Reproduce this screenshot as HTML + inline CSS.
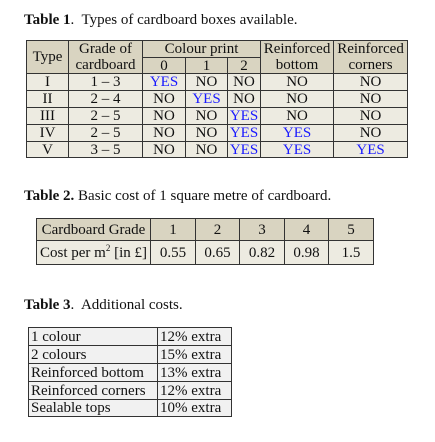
<!DOCTYPE html>
<html><head><meta charset="utf-8"><style>
body{margin:0;width:435px;height:442px;background:#fff;font-family:"Liberation Serif",serif;color:#111;position:relative;overflow:hidden}
.t{position:absolute;font-size:15px;white-space:nowrap;line-height:16px}
table{position:absolute;border-collapse:collapse;font-size:15px;table-layout:fixed}
td{border:1.5px solid #333;padding:0;text-align:center;line-height:14px;overflow:hidden;white-space:nowrap}
.h td{background:#d9d4c1}
.b td{background:#edebe1}
.y{color:#1a1aff}
#t3 td{background:#f1f1f1;text-align:left;padding-left:2px}
</style></head><body>
<div class="t" style="left:24px;top:12px"><b>Table 1</b>.&nbsp; Types of cardboard boxes available.</div>
<table style="left:26px;top:40px;width:381px">
<colgroup><col style="width:42px"><col style="width:74px"><col style="width:43px"><col style="width:42px"><col style="width:33px"><col style="width:73px"><col style="width:74px"></colgroup>
<tr class="h" style="height:17px"><td rowspan="2">Type</td><td style="border-bottom:none">Grade of</td><td colspan="3">Colour print</td><td style="border-bottom:none">Reinforced</td><td style="border-bottom:none">Reinforced</td></tr>
<tr class="h" style="height:16px"><td style="border-top:none">cardboard</td><td>0</td><td>1</td><td>2</td><td style="border-top:none">bottom</td><td style="border-top:none">corners</td></tr>
<tr class="b" style="height:17px"><td>I</td><td>1 – 3</td><td class="y">YES</td><td>NO</td><td>NO</td><td>NO</td><td>NO</td></tr>
<tr class="b" style="height:17px"><td>II</td><td>2 – 4</td><td>NO</td><td class="y">YES</td><td>NO</td><td>NO</td><td>NO</td></tr>
<tr class="b" style="height:17px"><td>III</td><td>2 – 5</td><td>NO</td><td>NO</td><td class="y">YES</td><td>NO</td><td>NO</td></tr>
<tr class="b" style="height:17px"><td>IV</td><td>2 – 5</td><td>NO</td><td>NO</td><td class="y">YES</td><td class="y">YES</td><td>NO</td></tr>
<tr class="b" style="height:16px"><td>V</td><td>3 – 5</td><td>NO</td><td>NO</td><td class="y">YES</td><td class="y">YES</td><td class="y">YES</td></tr>
</table>
<div class="t" style="left:24px;top:188px"><b>Table 2.</b> Basic cost of 1 square metre of cardboard.</div>
<table style="left:36px;top:218px;width:337px">
<colgroup><col style="width:114px"><col style="width:45px"><col style="width:44px"><col style="width:45px"><col style="width:44px"><col style="width:45px"></colgroup>
<tr class="h" style="height:22px"><td>Cardboard Grade</td><td>1</td><td>2</td><td>3</td><td>4</td><td>5</td></tr>
<tr class="b" style="height:24px"><td>Cost per m<sup style="font-size:9px;line-height:0">2</sup> [in £]</td><td>0.55</td><td>0.65</td><td>0.82</td><td>0.98</td><td>1.5</td></tr>
</table>
<div class="t" style="left:24px;top:297px"><b>Table 3</b>.&nbsp; Additional costs.</div>
<table id="t3" style="left:28px;top:327px;width:203px">
<colgroup><col style="width:129px"><col style="width:74px"></colgroup>
<tr style="height:18px"><td>1 colour</td><td>12% extra</td></tr>
<tr style="height:18px"><td>2 colours</td><td>15% extra</td></tr>
<tr style="height:18px"><td>Reinforced bottom</td><td>13% extra</td></tr>
<tr style="height:18px"><td>Reinforced corners</td><td>12% extra</td></tr>
<tr style="height:17px"><td>Sealable tops</td><td>10% extra</td></tr>
</table>
</body></html>
